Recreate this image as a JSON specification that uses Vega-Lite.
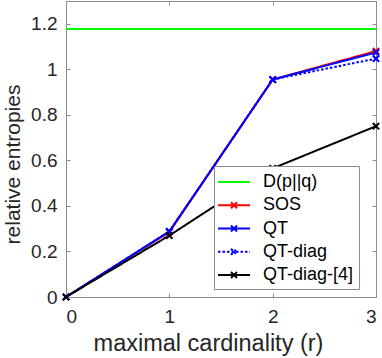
{
  "$schema": "https://vega.github.io/schema/vega-lite/v6.json",
  "width": 310,
  "height": 296,
  "autosize": {"type": "none"},
  "padding": {"left": 66, "top": 1, "right": 6, "bottom": 61},
  "background": "white",
  "config": {
    "font": "Liberation Sans",
    "view": {"stroke": "#8c8c8c", "strokeWidth": 1},
    "axis": {
      "grid": false,
      "domain": false,
      "tickColor": "#8c8c8c",
      "tickSize": -4,
      "labelColor": "#262626",
      "labelFont": "Liberation Sans",
      "labelFontSize": 19,
      "titleColor": "#262626",
      "titleFont": "Liberation Sans",
      "titleFontSize": 22.5,
      "titleFontWeight": "normal"
    }
  },
  "data": {
    "values": [
      {"series": "D(p||q)", "r": 0, "v": 1.177},
      {"series": "D(p||q)", "r": 3, "v": 1.177},
      {"series": "SOS", "r": 0, "v": 0},
      {"series": "SOS", "r": 1, "v": 0.285},
      {"series": "SOS", "r": 2, "v": 0.955},
      {"series": "SOS", "r": 3, "v": 1.08},
      {"series": "QT", "r": 0, "v": 0},
      {"series": "QT", "r": 1, "v": 0.288},
      {"series": "QT", "r": 2, "v": 0.955},
      {"series": "QT", "r": 3, "v": 1.074},
      {"series": "QT-diag", "r": 0, "v": 0},
      {"series": "QT-diag", "r": 1, "v": 0.288},
      {"series": "QT-diag", "r": 2, "v": 0.955},
      {"series": "QT-diag", "r": 3, "v": 1.047},
      {"series": "QT-diag-[4]", "r": 0, "v": 0},
      {"series": "QT-diag-[4]", "r": 1, "v": 0.27},
      {"series": "QT-diag-[4]", "r": 2, "v": 0.565},
      {"series": "QT-diag-[4]", "r": 3, "v": 0.75}
    ]
  },
  "resolve": {"axis": {"x": "independent", "y": "independent"}},
  "layer": [
    {
      "mark": {"type": "line", "strokeWidth": 2, "clip": true},
      "encoding": {
        "x": {
          "field": "r", "type": "quantitative",
          "scale": {"domain": [0, 3], "nice": false, "zero": false},
          "axis": {"values": [0, 1, 2, 3], "format": "~g", "title": "maximal cardinality (r)", "labelPadding": 14, "titlePadding": 5, "titleX": 142, "titleFontSize": 23.5}
        },
        "y": {
          "field": "v", "type": "quantitative",
          "scale": {"domain": [0, 1.3], "nice": false},
          "axis": {"values": [0, 0.2, 0.4, 0.6, 0.8, 1, 1.2], "format": "~g", "title": "relative entropies", "labelPadding": 13, "titlePadding": 7, "titleY": 163, "titleFontSize": 21}
        },
        "color": {
          "field": "series", "type": "nominal",
          "scale": {
            "domain": ["D(p||q)", "SOS", "QT", "QT-diag", "QT-diag-[4]"],
            "range": ["#00ff00", "#ff0000", "#0000ff", "#0000ff", "#000000"]
          },
          "legend": {
            "title": null,
            "orient": "none",
            "legendX": 148,
            "legendY": 165,
            "fillColor": "white",
            "strokeColor": "#8c8c8c",
            "padding": 5,
            "rowPadding": 3.25,
            "labelFont": "Liberation Sans",
            "labelFontSize": 18,
            "labelColor": "#000000",
            "labelOffset": 18,
            "labelExpr": "datum.label + '    '",
            "symbolType": "M-1.6,0H1.6M-0.3,-0.3L0.3,0.3M-0.3,0.3L0.3,-0.3",
            "symbolSize": 400,
            "symbolOffset": 4,
            "symbolStrokeWidth": 2,
            "encode": {
              "symbols": {
                "update": {
                  "shape": {"signal": "datum.value === 'D(p||q)' ? 'M-1.6,0H1.6' : 'M-1.6,0H1.6M-0.3,-0.3L0.3,0.3M-0.3,0.3L0.3,-0.3'"}
                }
              }
            }
          }
        },
        "strokeDash": {
          "field": "series", "type": "nominal",
          "scale": {
            "domain": ["D(p||q)", "SOS", "QT", "QT-diag", "QT-diag-[4]"],
            "range": [[1, 0], [1, 0], [1, 0], [2.5, 2], [1, 0]]
          },
          "legend": null
        }
      }
    },
    {
      "transform": [{"filter": "datum.series !== 'D(p||q)'"}],
      "mark": {"type": "point", "filled": false, "strokeWidth": 2, "size": 40, "shape": "M-1,-1L1,1M-1,1L1,-1", "clip": false, "opacity": 1},
      "encoding": {
        "x": {"field": "r", "type": "quantitative", "axis": null},
        "y": {"field": "v", "type": "quantitative", "axis": null},
        "color": {"field": "series", "type": "nominal", "legend": null}
      }
    },
    {
      "mark": {"type": "point", "opacity": 0},
      "encoding": {
        "x": {"field": "r", "type": "quantitative", "axis": {"orient": "top", "values": [0, 1, 2, 3], "labels": false, "title": null}},
        "y": {"field": "v", "type": "quantitative", "axis": {"orient": "right", "values": [0, 0.2, 0.4, 0.6, 0.8, 1, 1.2], "labels": false, "title": null}}
      }
    }
  ]
}
